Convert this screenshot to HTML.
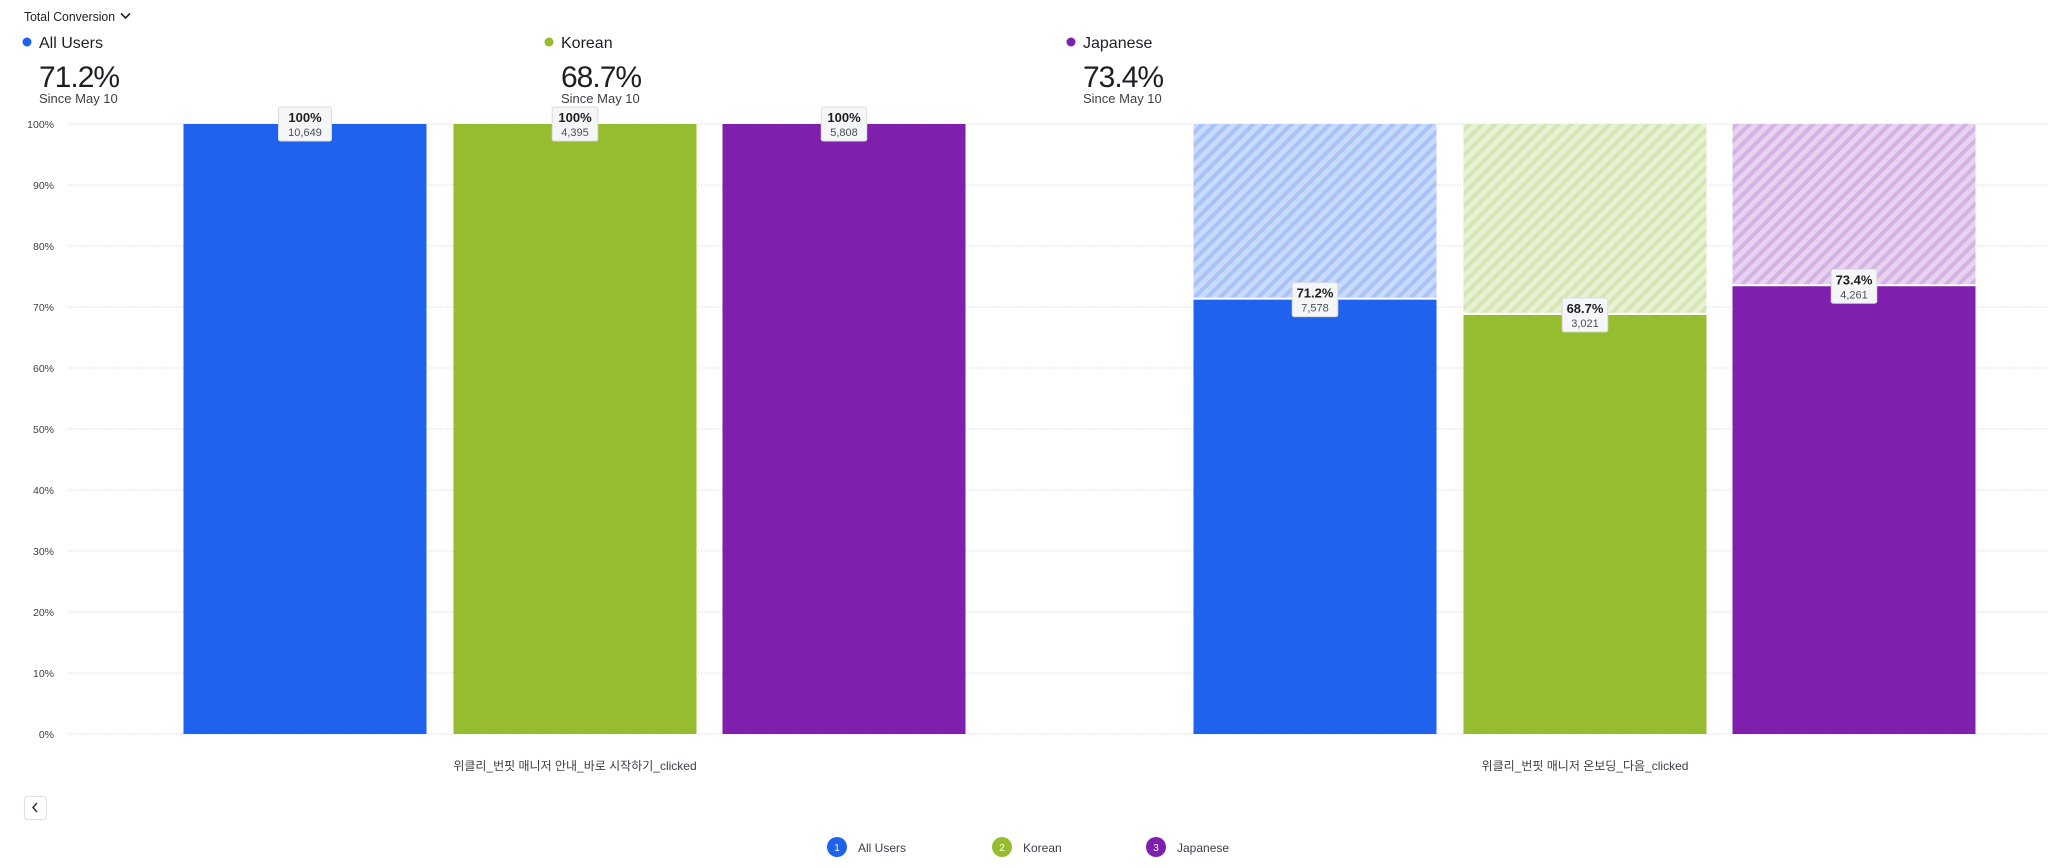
<!DOCTYPE html>
<html><head><meta charset="utf-8">
<style>
body{margin:0;background:#fff;width:2048px;height:868px;overflow:hidden;font-family:"Liberation Sans","Noto Sans CJK KR",sans-serif;color:#1d1f24}
</style></head>
<body>
<svg id="chart" width="2048" height="868" xmlns="http://www.w3.org/2000/svg" style="position:absolute;left:0;top:0">
<defs>
<pattern id="h0" patternUnits="userSpaceOnUse" width="9" height="9" patternTransform="rotate(45)"><rect width="9" height="9" fill="#c9dafc"/><rect width="4" height="9" fill="#a8c3f7"/></pattern>
<pattern id="h1" patternUnits="userSpaceOnUse" width="9" height="9" patternTransform="rotate(45)"><rect width="9" height="9" fill="#e8f1d4"/><rect width="4" height="9" fill="#d6e6b2"/></pattern>
<pattern id="h2" patternUnits="userSpaceOnUse" width="9" height="9" patternTransform="rotate(45)"><rect width="9" height="9" fill="#e7d3ef"/><rect width="4" height="9" fill="#d4b2e3"/></pattern>
</defs>
<g>
<text x="24" y="21" font-size="13" fill="#1d1f24" textLength="91" lengthAdjust="spacingAndGlyphs">Total Conversion</text>
<path d="M121 13.5 l4.5 4.5 l4.5 -4.5" fill="none" stroke="#1d1f24" stroke-width="1.6"/>
</g>
<g id="summary"></g>
<g id="grid"></g>
<g id="bars"></g>
<g id="labels"></g>
<g>
<rect x="24.5" y="796.5" width="22" height="23" rx="3" fill="#fff" stroke="#dcdfe4"/>
<path d="M37 803 l-4 4.5 l4 4.5" fill="none" stroke="#333" stroke-width="1.5"/>
</g>
<g id="legend"></g>
</svg>
<script>
const categories=["위클리_번핏 매니저 안내_바로 시작하기_clicked","위클리_번핏 매니저 온보딩_다음_clicked"];
const seriesNames=["All Users","Korean","Japanese"];
const seriesPct=[[100,71.2],[100,68.7],[100,73.4]];
const seriesCounts=[["10,649","7,578"],["4,395","3,021"],["5,808","4,261"]];
const summaryPct=["71.2%","68.7%","73.4%"];
const yTicks=[0,10,20,30,40,50,60,70,80,90,100];
const colors=["#1e62ee","#96bc30","#7e1fad"];
const NS="http://www.w3.org/2000/svg";
function mk(tag,attrs,parent,text){const e=document.createElementNS(NS,tag);for(const k in attrs)e.setAttribute(k,attrs[k]);if(text!==undefined)e.textContent=text;parent.appendChild(e);return e;}
const y0=734,y1=124;
function yS(v){return y0-(y0-y1)*v/100;}
function xC(i){return 575+1010*i;}
const offs=[-270,0,269],bw=243;
const grid=document.getElementById('grid');
yTicks.forEach(t=>{
 const l=mk('line',{x1:68,x2:2048,y1:yS(t),y2:yS(t),stroke:'#d5d8de','stroke-dasharray':'1.5 1.5'},grid);
 
 
 const tx=mk('text',{x:54,y:yS(t)+4,'text-anchor':'end','font-size':10.5,fill:'#3d4048'},grid,t+'%');
 
 
});
const bars=document.getElementById('bars'),labels=document.getElementById('labels');
categories.forEach((c,ci)=>{
 const ct=mk('text',{x:xC(ci),y:770,'text-anchor':'middle','font-size':12,fill:'#3d4048'},labels,c);
 
 
 seriesNames.forEach((s,si)=>{
  const v=seriesPct[si][ci],x=xC(ci)+offs[si]-bw/2;
  if(v<100){
   const h=mk('rect',{x:x,y:yS(100),width:bw,height:yS(v)-yS(100),fill:'url(#h'+si+')'},bars);
   
   
   mk('line',{x1:x,x2:x+bw,y1:yS(v)-1,y2:yS(v)-1,stroke:'#fff','stroke-width':2},bars);
  }
  const r=mk('rect',{x:x,y:yS(v),width:bw,height:y0-yS(v),fill:colors[si]},bars);
  
  
  const cx=xC(ci)+offs[si],ty=yS(v);
  const g=mk('g',{},labels);
  
  
  const lbl=(v===100?'100':v.toFixed(1))+'%';
  const w=Math.max(lbl.length,seriesCounts[si][ci].length)*7.5+8;
  mk('rect',{x:cx-w/2,y:ty-17,width:w,height:34,rx:2,fill:'#f5f6f8',stroke:'#d9dce1'},g);
  mk('text',{x:cx,y:ty-2,'text-anchor':'middle','font-size':13,'font-weight':'bold',fill:'#1d1f24'},g,lbl);
  mk('text',{x:cx,y:ty+12,'text-anchor':'middle','font-size':11,fill:'#4a4e57'},g,seriesCounts[si][ci]);
 });
});
const sum=document.getElementById('summary');
const sx=[27,549,1071];
seriesNames.forEach((s,si)=>{
 const g=mk('g',{},sum);
 
 
 mk('circle',{cx:sx[si],cy:42,r:4.5,fill:colors[si]},g);
 mk('text',{x:sx[si]+12,y:48,'font-size':16,fill:'#1d1f24'},g,s);
 mk('text',{x:sx[si]+12,y:87,'font-size':30,fill:'#1d1f24','letter-spacing':'-1'},g,summaryPct[si]);
 mk('text',{x:sx[si]+12,y:103,'font-size':13,fill:'#3d4048'},g,'Since May 10');
});
const leg=document.getElementById('legend');
const lx=[837,1002,1156];
seriesNames.forEach((s,si)=>{
 const g=mk('g',{},leg);
 
 
 mk('circle',{cx:lx[si],cy:847,r:10,fill:colors[si]},g);
 mk('text',{x:lx[si],y:851,'text-anchor':'middle','font-size':10,fill:'#fff'},g,String(si+1));
 mk('text',{x:lx[si]+21,y:852,'font-size':12,fill:'#3d4048'},g,s);
});
</script>
</body></html>
